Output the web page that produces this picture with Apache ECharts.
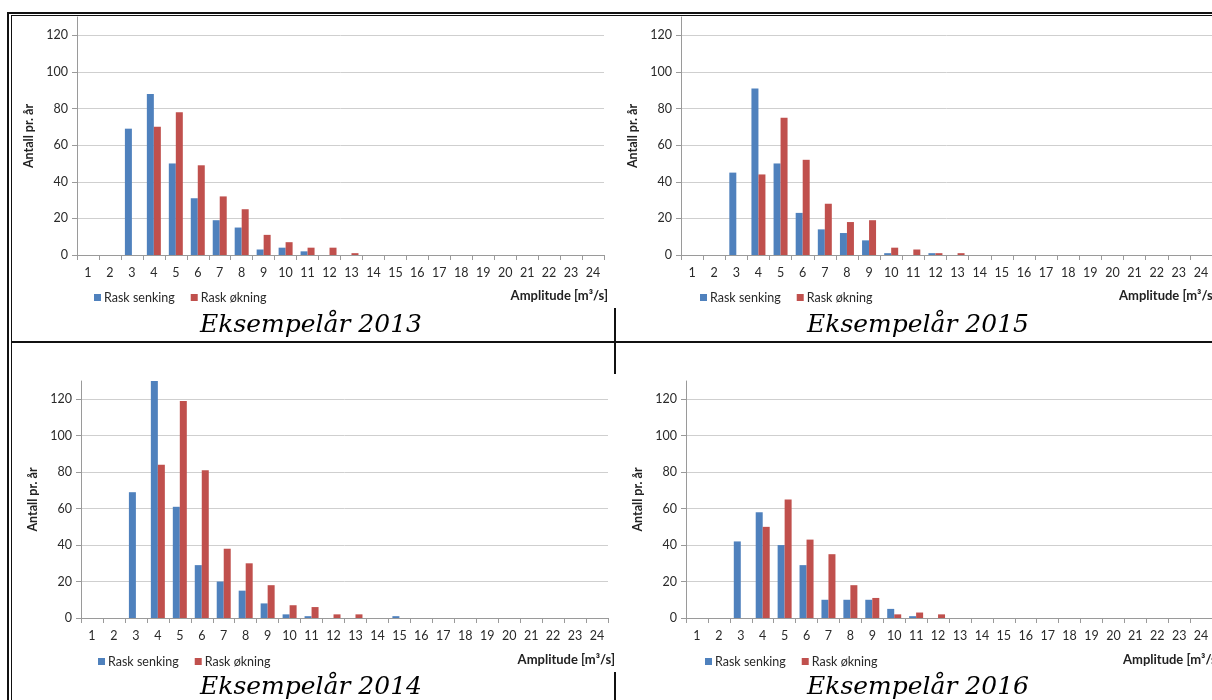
<!DOCTYPE html>
<html>
<head>
<meta charset="utf-8">
<script src="https://cdn.jsdelivr.net/npm/echarts@6/dist/echarts.min.js"></script>
<style>
html,body{margin:0;padding:0;background:#fff;}
#c{width:1212px;height:700px;}
</style>
</head>
<body>
<div id="c"></div>
<script>
const categories = ['1','2','3','4','5','6','7','8','9','10','11','12','13','14','15','16','17','18','19','20','21','22','23','24'];
const yTicks = [0,20,40,60,80,100,120];
const seriesNames = ['Rask senking','Rask økning'];
const panelTitles = ['Eksempelår 2013','Eksempelår 2015','Eksempelår 2014','Eksempelår 2016'];
const yAxisTitle = 'Antall pr. år';
const xAxisTitle = 'Amplitude [m³/s]';

const senking2013 = [0,0,69,88,50,31,19,15,3,4,2,0,0,0,0,0,0,0,0,0,0,0,0,0];
const okning2013  = [0,0,0,70,78,49,32,25,11,7,4,4,1,0,0,0,0,0,0,0,0,0,0,0];
const senking2015 = [0,0,45,91,50,23,14,12,8,1,0,1,0,0,0,0,0,0,0,0,0,0,0,0];
const okning2015  = [0,0,0,44,75,52,28,18,19,4,3,1,1,0,0,0,0,0,0,0,0,0,0,0];
const senking2014 = [0,0,69,130,61,29,20,15,8,2,1,0,0,0,1,0,0,0,0,0,0,0,0,0];
const okning2014  = [0,0,0,84,119,81,38,30,18,7,6,2,2,0,0,0,0,0,0,0,0,0,0,0];
const senking2016 = [0,0,42,58,40,29,10,10,10,5,1,0,0,0,0,0,0,0,0,0,0,0,0,0];
const okning2016  = [0,0,0,50,65,43,35,18,11,2,3,2,0,0,0,0,0,0,0,0,0,0,0,0];

const panelData = [[senking2013, okning2013],[senking2015, okning2015],[senking2014, okning2014],[senking2016, okning2016]];

const BLUE = '#4F81BD', RED = '#C0504D';
const FONT = 'Lato';

const layout = [
  {grid:{left:77, right:608, top:17, bottom:445}, legend:{left:94, top:291}, xt:{x:608, y:296, align:'right'}, title:{x:311, y:325}},
  {grid:{left:681, right:-2, top:17, bottom:445}, legend:{left:700, top:291}, xt:{x:1119, y:296, align:'left'}, title:{x:918, y:325}},
  {grid:{left:81, right:604, top:381, bottom:82}, legend:{left:98, top:655}, xt:{x:615, y:660, align:'right'}, title:{x:311, y:687}},
  {grid:{left:686, right:-7, top:381, bottom:82}, legend:{left:705, top:655}, xt:{x:1123, y:660, align:'left'}, title:{x:918, y:687}}
];

const grids = [], xAxes = [], yAxes = [], series = [], legends = [], graphics = [];

layout.forEach((L, i) => {
  grids.push(Object.assign({containLabel:false}, L.grid));
  xAxes.push({
    type:'category', gridIndex:i, data:categories, boundaryGap:true,
    axisLine:{show:true, lineStyle:{color:'#9a9a9a', width:1}},
    axisTick:{show:true, length:5, lineStyle:{color:'#9a9a9a'}},
    axisLabel:{show:true, interval:0, margin:11, fontSize:12.5, color:'#2a2a2a', fontFamily:FONT},
    splitLine:{show:false}
  });
  yAxes.push({
    type:'value', gridIndex:i, min:0, max:130, interval:20,
    name:yAxisTitle, nameLocation:'middle', nameRotate:90, nameGap:42,
    nameTextStyle:{fontSize:12.5, fontWeight:'bold', color:'#222', fontFamily:FONT},
    axisLine:{show:true, lineStyle:{color:'#9a9a9a', width:1}},
    axisTick:{show:true, inside:false, length:5, lineStyle:{color:'#9a9a9a'}},
    axisLabel:{show:true, margin:9, fontSize:12.5, color:'#2a2a2a', fontFamily:FONT, showMaxLabel:false},
    splitLine:{show:true, showMaxLine:false, showMinLine:false, lineStyle:{color:'#cfcfcf', width:1}}
  });
  panelData[i].forEach((arr, k) => {
    series.push({
      type:'bar', name:seriesNames[k], xAxisIndex:i, yAxisIndex:i, data:arr,
      barWidth:7, barGap:'0%',
      itemStyle:{color: k===0 ? BLUE : RED},
      emphasis:{disabled:true}, animation:false
    });
  });
  legends.push({
    data:seriesNames, left:L.legend.left, top:L.legend.top, orient:'horizontal',
    icon:'rect', itemWidth:7, itemHeight:7, itemGap:16, padding:0,
    textStyle:{fontSize:12.5, color:'#2a2a2a', fontFamily:FONT, padding:[0,0,0,-2]},
    selectedMode:false
  });
  graphics.push({
    type:'text', x:L.xt.x, y:L.xt.y, silent:true,
    style:{text:xAxisTitle, fill:'#222', font:'bold 13px Lato', textAlign:L.xt.align, textVerticalAlign:'middle'}
  });
  graphics.push({
    type:'text', x:L.title.x, y:L.title.y, silent:true,
    style:{text:panelTitles[i], fill:'#000', font:'italic 25px "DejaVu Serif"', textAlign:'center', textVerticalAlign:'middle'}
  });
});

const frame = [
  {x:7, y:12, w:1205, h:2},
  {x:11, y:15, w:1201, h:1},
  {x:7, y:12, w:2, h:688},
  {x:11, y:15, w:1, h:685},
  {x:11, y:341, w:1201, h:2},
  {x:614, y:308, w:2, h:66},
  {x:614, y:672, w:2, h:28}
];
frame.forEach(f => graphics.push({type:'rect', silent:true, shape:{x:f.x, y:f.y, width:f.w, height:f.h}, style:{fill:'#111'}}));

const chart = echarts.init(document.getElementById('c'), null, {renderer:'canvas'});
chart.setOption({
  backgroundColor:'#ffffff',
  animation:false,
  textStyle:{fontFamily:FONT},
  grid:grids, xAxis:xAxes, yAxis:yAxes, series:series, legend:legends,
  graphic:{elements:graphics}
});
</script>
</body>
</html>
